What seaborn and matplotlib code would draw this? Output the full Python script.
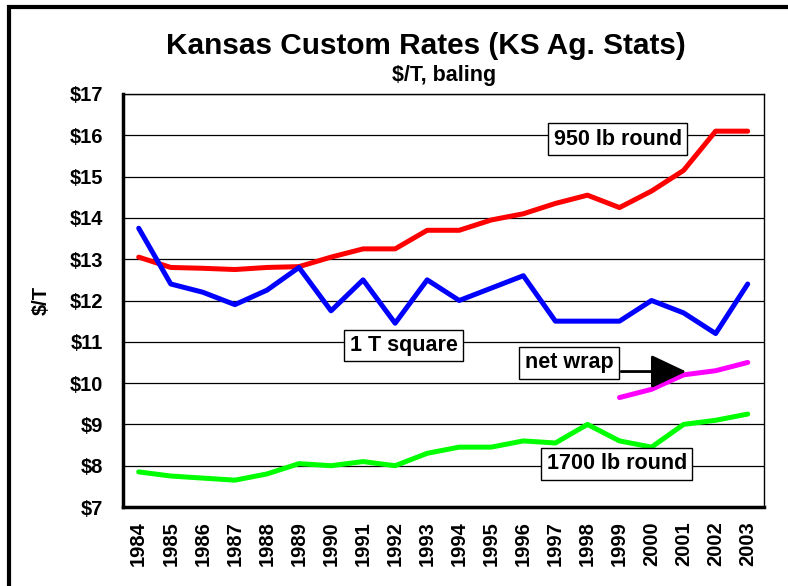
import matplotlib
matplotlib.use("Agg")
import matplotlib.pyplot as plt
from matplotlib.patches import Rectangle
import pandas as pd
import seaborn as sns

years = list(range(1984, 2004))
round_950 = [13.05, 12.8, 12.78, 12.75, 12.8, 12.82, 13.05, 13.25, 13.25, 13.7,
             13.7, 13.95, 14.1, 14.35, 14.55, 14.25, 14.65, 15.15, 16.1, 16.1]
square_1t = [13.75, 12.4, 12.2, 11.9, 12.25, 12.8, 11.75, 12.5, 11.45, 12.5,
             12.0, 12.3, 12.6, 11.5, 11.5, 11.5, 12.0, 11.7, 11.2, 12.4]
round_1700 = [7.85, 7.75, 7.7, 7.65, 7.8, 8.05, 8.0, 8.1, 8.0, 8.3,
              8.45, 8.45, 8.6, 8.55, 9.0, 8.6, 8.45, 9.0, 9.1, 9.25]
netwrap_years = [1999, 2000, 2001, 2002, 2003]
net_wrap = [9.65, 9.85, 10.2, 10.3, 10.5]
y_ticks = list(range(7, 18))

sns.set_style("white")
plt.rcParams['font.family'] = ['Liberation Sans', 'DejaVu Sans']
plt.rcParams['font.weight'] = 'bold'
plt.rcParams['text.color'] = 'black'
plt.rcParams['axes.labelcolor'] = 'black'
plt.rcParams['xtick.color'] = 'black'
plt.rcParams['ytick.color'] = 'black'

fig = plt.figure(figsize=(7.88, 5.86), dpi=100)
ax = fig.add_axes([0.1557, 0.1348, 0.8135, 0.7048])

df = pd.DataFrame({"year": years, "950 lb round": round_950,
                   "1 T square": square_1t, "1700 lb round": round_1700})
nw = pd.DataFrame({"year": netwrap_years, "net wrap": net_wrap})

lw = 3.6
sns.lineplot(data=df, x="year", y="950 lb round", color="#ff0000", lw=lw, ax=ax)
sns.lineplot(data=df, x="year", y="1 T square", color="#0000ff", lw=lw, ax=ax)
sns.lineplot(data=df, x="year", y="1700 lb round", color="#00ff00", lw=lw, ax=ax)
sns.lineplot(data=nw, x="year", y="net wrap", color="#ff00ff", lw=lw, ax=ax)

fs = 14.5
ax.set_xlim(1983.5, 2003.5)
ax.set_ylim(7, 17)
ax.set_yticks(y_ticks)
ax.set_yticklabels([f"${v}" for v in y_ticks], fontsize=fs, fontweight='bold')
ax.set_xticks(years)
ax.set_xticklabels([str(y) for y in years], rotation=90, fontsize=fs, fontweight='bold')
ax.tick_params(axis='x', direction='in', length=11, width=1, color='#333333', pad=10)
ax.tick_params(axis='y', direction='out', length=4, width=1, color='black', pad=10)
ax.yaxis.grid(True, color='black', lw=0.9)
ax.set_axisbelow(True)
ax.set_xlabel("")
ax.set_ylabel("$/T", fontsize=fs, fontweight='bold')
ax.yaxis.set_label_coords(-0.112, 0.5)

for side in ['top', 'right']:
    ax.spines[side].set_color('black')
    ax.spines[side].set_linewidth(1)
for side in ['left', 'bottom']:
    ax.spines[side].set_color('black')
    ax.spines[side].set_linewidth(2.5)

box = dict(boxstyle='square,pad=0.25', fc='white', ec='black', lw=1)
afs = 15.5
ax.text(1998.94, 15.91, "950 lb round", ha='center', va='center', fontsize=afs,
        fontweight='bold', bbox=box)
ax.text(1992.26, 10.91, "1 T square", ha='center', va='center', fontsize=afs,
        fontweight='bold', bbox=box)
ax.text(1997.43, 10.49, "net wrap", ha='center', va='center', fontsize=afs,
        fontweight='bold', bbox=box)
ax.text(1998.92, 8.05, "1700 lb round", ha='center', va='center', fontsize=afs,
        fontweight='bold', bbox=box)
ax.annotate("", xy=(2001.08, 10.28), xytext=(1999.05, 10.28),
            arrowprops=dict(arrowstyle='-|>,head_length=1.1,head_width=0.52',
                            mutation_scale=20, lw=2, color='black',
                            shrinkA=0, shrinkB=0))

fig.text(0.54, 0.922, "Kansas Custom Rates (KS Ag. Stats)", ha='center', va='center',
         fontsize=21.4, fontweight='bold')
fig.text(0.5635, 0.871, "$/T, baling", ha='center', va='center',
         fontsize=15.5, fontweight='bold')

frame = Rectangle((8.5 / 788, -0.1), 1.2, 1.1 - 7 / 586, transform=fig.transFigure,
                  fill=False, ec='black', lw=3, clip_on=False)
fig.patches.append(frame)

fig.savefig("out.png", dpi=100)
